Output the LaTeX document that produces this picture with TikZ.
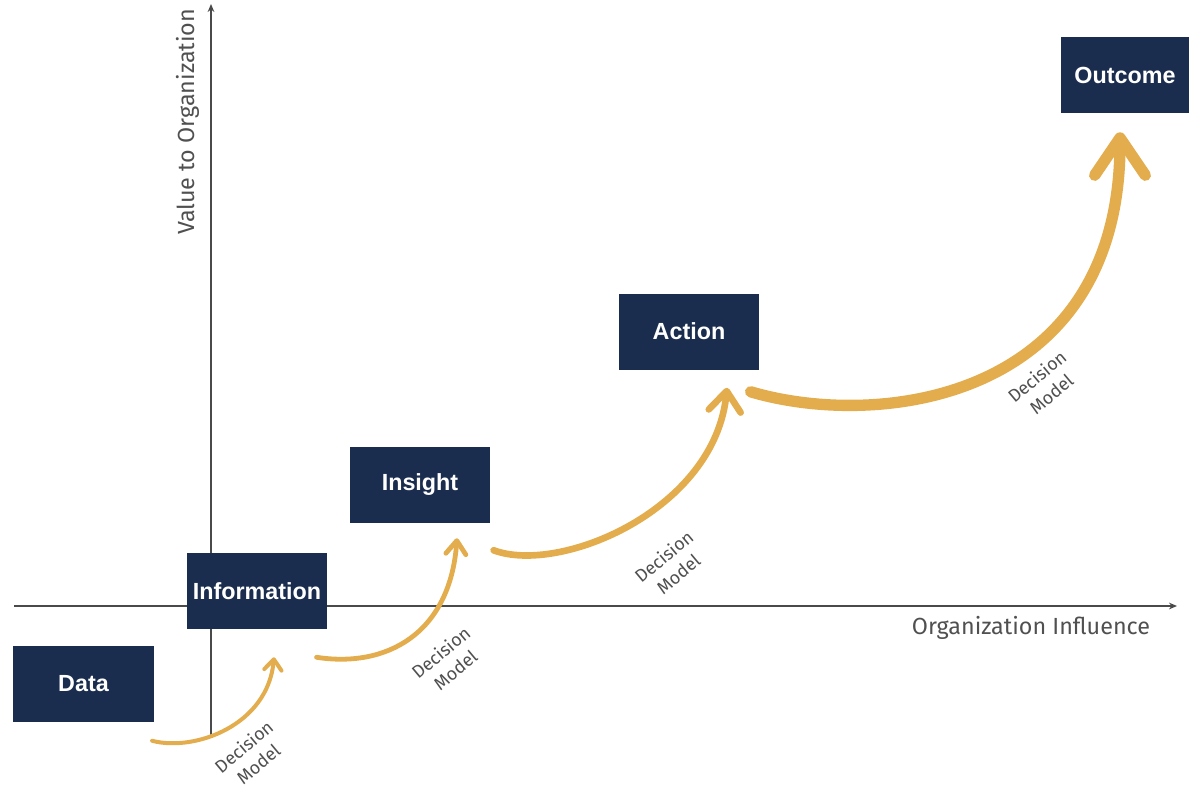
\documentclass[tikz,border=0pt]{standalone}
\usepackage{fontspec}
\setmainfont{Liberation Sans}
\newfontfamily\lblfont{Fira Sans}
\usetikzlibrary{arrows.meta,calc}
\definecolor{navy}{HTML}{1B2D4F}
\definecolor{gold}{HTML}{E3AD4E}
\definecolor{axisgray}{HTML}{4A4A4A}
\definecolor{txtgray}{HTML}{505050}
\begin{document}
\begin{tikzpicture}[x=0.75pt,y=-0.75pt,
  box/.style={fill=navy, text=white, font=\fontsize{17.5}{20}\selectfont\bfseries,
    minimum width=105.5pt, minimum height=57pt, inner sep=0pt},
  axisline/.style={draw=axisgray, line width=1.1pt, -{Stealth[length=6pt,width=5pt]}},
  axislbl/.style={text=txtgray, font=\lblfont\fontsize{17.5}{20}\selectfont, inner sep=0pt},
  dm/.style={text=txtgray, font=\lblfont\fontsize{13.5}{17}\selectfont, align=center, inner sep=0pt, rotate=40},
  flow/.style={draw=gold, line cap=round, line join=round},
]
\useasboundingbox (0,0) rectangle (1189,789);

% axes
\draw[axisline] (211,735) -- (211,4);
\draw[axisline] (14,606) -- (1177,606);
\node[axislbl, rotate=90] (ylbl) at (188,122) {Value to Organization};
\node[axislbl] (xlbl) at (1031,628) {Organization Influence};

% boxes
\node[box] (data) at (83.5,683.5) {Data};
\node[box] (info) at (257,591) {Information};
\node[box] (insight) at (420,485) {Insight};
\node[box] (action) at (689,331.5) {Action};
\node[box, minimum width=96pt] (outcome) at (1125,75) {Outcome};

% connector end points
\coordinate (s1) at ($(data.south east)+(-2,19)$);
\coordinate (e1) at ($(info.south)+(17,28)$);
\coordinate (s2) at ($(info.south east)+(-11,28)$);
\coordinate (e2) at ($(insight.south)+(37,15)$);
\coordinate (s3) at ($(insight.south east)+(3,27)$);
\coordinate (e3) at ($(action.south)+(38,18)$);
\coordinate (s4) at ($(action.south east)+(-9,22)$);
\coordinate (e4) at ($(outcome.south)+(-5,19)$);

% flows
\draw[flow, line width=3pt, -{Straight Barb[length=8pt,width=13pt,round]}]
  (s1) .. controls (195,752) and (268,725) .. (e1);
\draw[flow, line width=3.6pt, -{Straight Barb[length=10pt,width=15pt,round]}]
  (s2) .. controls (385,668) and (450,635) .. (e2);
\draw[flow, line width=5pt, -{Straight Barb[length=15pt,width=24pt,round]}]
  (s3) .. controls (560,575) and (715,510) .. (e3);
\draw[flow, line width=8.5pt, -{Straight Barb[length=28pt,width=38pt,round]}]
  (s4) .. controls (880,430) and (1120,400) .. (e4);

% labels
\node[dm] (dm1) at (251,755) {Decision\\Model};
\node[dm] (dm2) at (448,661) {Decision\\Model};
\node[dm] (dm3) at (671,565) {Decision\\Model};
\node[dm] (dm4) at (1044,385) {Decision\\Model};
\end{tikzpicture}
\end{document}
